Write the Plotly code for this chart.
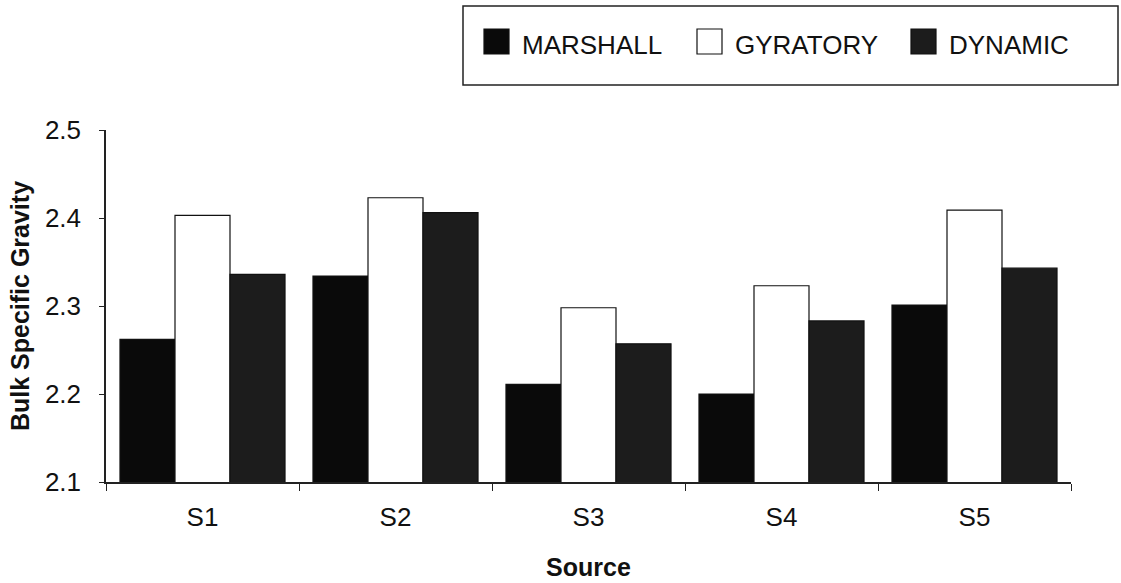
import plotly.graph_objects as go

# ---- data ----
categories = ["S1", "S2", "S3", "S4", "S5"]
series_names = ["MARSHALL", "GYRATORY", "DYNAMIC"]
marshall = [2.262, 2.334, 2.211, 2.200, 2.301]
gyratory = [2.403, 2.423, 2.298, 2.323, 2.409]
dynamic = [2.336, 2.406, 2.257, 2.283, 2.343]
y_ticks = [2.1, 2.2, 2.3, 2.4, 2.5]

series_values = [marshall, gyratory, dynamic]
fills = ["#0a0a0a", "#ffffff", "#1c1c1c"]

FONT = "Arial, 'Liberation Sans', sans-serif"
W, H = 1121, 583
L, R, T, B = 106, 50, 130, 101
PW, PH = W - L - R, H - T - B


def px_x(px):
    return (px - L) / PW


def px_y(py):
    return (H - B - py) / PH


fig = go.Figure()
for name, vals, col in zip(series_names, series_values, fills):
    fig.add_trace(go.Bar(
        x=categories, y=vals, name=name,
        marker=dict(color=col, line=dict(color="#111111", width=1.2)),
        showlegend=False,
    ))

# custom legend box with large swatches
shapes = [dict(type="rect", xref="paper", yref="paper",
               x0=px_x(463), x1=px_x(1118), y0=px_y(85), y1=px_y(6),
               line=dict(color="#222222", width=1.5), fillcolor="rgba(0,0,0,0)")]
annotations = []
swatch_left = [484, 697, 911]
for name, col, sx in zip(series_names, fills, swatch_left):
    shapes.append(dict(type="rect", xref="paper", yref="paper",
                       x0=px_x(sx), x1=px_x(sx + 25), y0=px_y(54), y1=px_y(29),
                       line=dict(color="#111111", width=1.2), fillcolor=col))
    annotations.append(dict(xref="paper", yref="paper", x=px_x(sx + 36), y=px_y(45),
                            xanchor="left", yanchor="middle", showarrow=False,
                            text=name, font=dict(family=FONT, size=26, color="#111111")))

fig.update_layout(
    width=W, height=H, autosize=False,
    margin=dict(l=L, r=R, t=T, b=B, pad=0),
    paper_bgcolor="white", plot_bgcolor="white",
    barmode="group", bargap=0.145, bargroupgap=0,
    font=dict(family=FONT, color="#111111"),
    shapes=shapes, annotations=annotations,
    showlegend=False,
    yaxis2=dict(overlaying="y", side="left", range=[2.1, 2.5], tickvals=y_ticks,
                ticks="inside", ticklen=5, tickcolor="#222222", tickwidth=1.2,
                showticklabels=False, showline=False, showgrid=False, zeroline=False,
                automargin=False),
)
fig.update_xaxes(
    type="category", tickson="boundaries", ticks="outside", ticklen=7,
    tickcolor="#222222", tickwidth=1.2, automargin=False,
    showline=True, linecolor="#222222", linewidth=1.5, showgrid=False,
    tickfont=dict(family=FONT, size=26, color="#111111"),
    ticklabelstandoff=11,
    title=dict(text="Source", standoff=28,
               font=dict(family=FONT, size=25, color="#111111", weight="bold")),
)
fig.update_yaxes(
    selector=dict(overlaying=None),
    range=[2.1, 2.5], tickvals=y_ticks, tickformat=".1f", automargin=False,
    ticks="outside", ticklen=5, tickcolor="#222222", tickwidth=1.2,
    showline=True, linecolor="#222222", linewidth=1.5, showgrid=False, zeroline=False,
    tickfont=dict(family=FONT, size=26, color="#111111"),
    ticklabelstandoff=13,
    title=dict(text="Bulk Specific Gravity", standoff=8,
               font=dict(family=FONT, size=25, color="#111111", weight="bold")),
)
fig.layout.yaxis2.update(ticks="inside", showticklabels=False, title=None)

fig.write_html("out.html")
